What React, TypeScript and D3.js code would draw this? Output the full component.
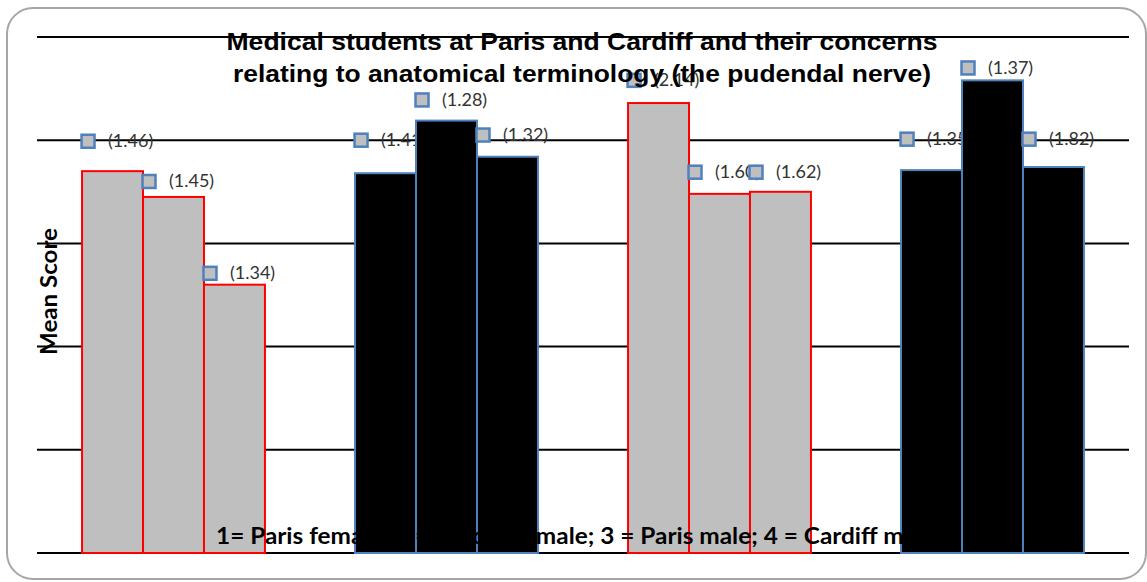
import React from 'react';
import * as d3 from 'd3';

// groups: 1 = Paris female, 2 = Cardiff female, 3 = Paris male, 4 = Cardiff male
const groups = ['1', '2', '3', '4'];
const items = ['a', 'b', 'c'];

// bar heights (mean score) per group
const meanScores = [
    [3.70, 3.45, 2.60],
    [3.68, 4.19, 3.84],
    [4.36, 3.48, 3.50],
    [3.71, 4.58, 3.74],
];

// square markers with their bracketed labels
const markerScores = [
    [3.99, 3.60, 2.71],
    [4.00, 4.39, 4.05],
    [4.58, 3.69, 3.69],
    [4.01, 4.70, 4.01],
];
const markerLabels = [
    ['(1.46)', '(1.45)', '(1.34)'],
    ['(1.41)', '(1.28)', '(1.32)'],
    ['(2.14)', '(1.60)', '(1.62)'],
    ['(1.35)', '(1.37)', '(1.82)'],
];

const yTicks = [0, 1, 2, 3, 4, 5];

const titleLines = [
    'Medical students at Paris and Cardiff and their concerns',
    'relating to anatomical terminology (the pudendal nerve)',
];
const footNote = '1= Paris female; 2 = Cardiff female; 3 = Paris male; 4 = Cardiff male';
const yTitle = 'Mean Score';

const W = 1147;
const H = 582;

const App: React.FC = () => {
    const plot = { left: 37, right: 1129, top: 37, bottom: 553 };

    const y = d3.scaleLinear().domain([0, 5]).range([plot.bottom, plot.top]);

    const x0 = d3.scaleBand<string>()
        .domain(groups)
        .range([plot.left, plot.right])
        .paddingInner(0.33)
        .paddingOuter(0.165);

    const x1 = d3.scaleBand<string>()
        .domain(items)
        .range([0, x0.bandwidth()])
        .padding(0);

    const isGray = (gi: number) => gi % 2 === 0;
    const mSize = 13;
    const mOffset = 6;

    return (
        <svg width={W} height={H} style={{ position: 'absolute', left: 0, top: 0, display: 'block' }}>
            <rect x={0} y={0} width={W} height={H} fill="#fff" />
            <rect x={7} y={8} width={1139} height={571} rx={26} ry={26}
                fill="#fff" stroke="#a6a6a6" strokeWidth={2} />

            {/* gridlines */}
            {yTicks.map(t => (
                <line key={t} x1={plot.left} x2={plot.right} y1={y(t)} y2={y(t)}
                    stroke="#000" strokeWidth={2} />
            ))}

            {/* marker labels (under the bars) */}
            {groups.map((g, gi) => items.map((it, ii) => {
                const cx = (x0(g) ?? 0) + (x1(it) ?? 0) + mOffset;
                const cy = y(markerScores[gi][ii]);
                return (
                    <text key={`l${g}${it}`} x={cx + 20} y={cy + 6}
                        fontFamily="Lato, 'Noto Sans', sans-serif" fontSize={18} fill="#333">
                        {markerLabels[gi][ii]}
                    </text>
                );
            }))}

            {/* bars */}
            {groups.map((g, gi) => items.map((it, ii) => (
                <rect key={`b${g}${it}`}
                    x={(x0(g) ?? 0) + (x1(it) ?? 0)}
                    y={y(meanScores[gi][ii])}
                    width={x1.bandwidth()}
                    height={y(0) - y(meanScores[gi][ii])}
                    fill={isGray(gi) ? '#bfbfbf' : '#000'}
                    stroke={isGray(gi) ? '#ff0000' : '#4f81bd'}
                    strokeWidth={2} />
            )))}

            {/* markers */}
            {groups.map((g, gi) => items.map((it, ii) => {
                const cx = (x0(g) ?? 0) + (x1(it) ?? 0) + mOffset;
                const cy = y(markerScores[gi][ii]);
                return (
                    <rect key={`m${g}${it}`} x={cx - mSize / 2} y={cy - mSize / 2}
                        width={mSize} height={mSize}
                        fill="#bfbfbf" stroke="#4f81bd" strokeWidth={2.5} />
                );
            }))}

            {/* title */}
            {titleLines.map((t, i) => (
                <text key={t} x={582} y={50 + i * 32} textAnchor="middle"
                    fontFamily="'Liberation Sans', Arial, sans-serif" fontWeight="bold" fontSize={24}
                    textLength={i === 0 ? 711 : 698} lengthAdjust="spacingAndGlyphs" fill="#000">
                    {t}
                </text>
            ))}

            {/* foot note drawn across the bars */}
            <text x={216} y={544} fontFamily="Lato, 'Noto Sans', sans-serif" fontWeight="bold"
                fontSize={23} textLength={719} lengthAdjust="spacingAndGlyphs" fill="#000">
                {footNote}
            </text>

            {/* y axis title */}
            <text transform={`translate(57, ${(228 + 355) / 2}) rotate(-90)`} textAnchor="middle"
                fontFamily="Lato, 'Noto Sans', sans-serif" fontWeight="bold" fontSize={23}
                textLength={127} lengthAdjust="spacingAndGlyphs" fill="#000">
                {yTitle}
            </text>
        </svg>
    );
};

export default App;
